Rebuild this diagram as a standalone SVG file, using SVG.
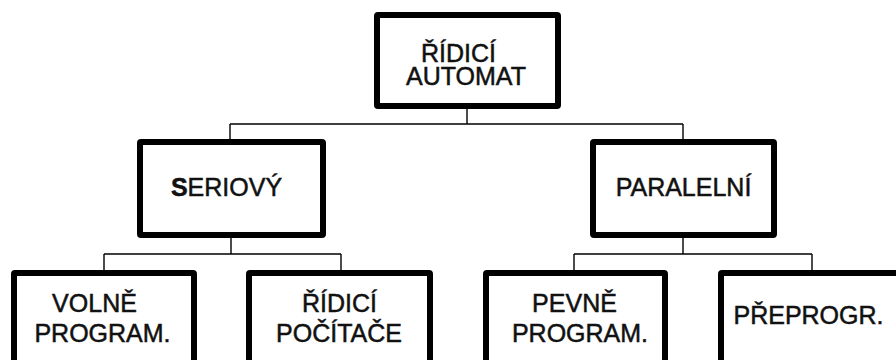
<svg xmlns="http://www.w3.org/2000/svg" width="896" height="360" viewBox="0 0 896 360">
<style>
.box{fill:#fff;stroke:#000;stroke-width:6;stroke-linejoin:round}
.t{font-family:"Liberation Sans",Arial,sans-serif;font-size:25px;fill:#111;stroke:#111;stroke-width:0.5;text-anchor:middle}
.c{fill:none;stroke:#000;stroke-width:1.4}
</style>
<rect width="896" height="360" fill="#fff"/>
<g id="connectors">
<path class="c" d="M467,109V124M230,124H683M230,124V139M683,124V139"/>
<path class="c" d="M231,238V254M104,254H341M104,254V270M341,254V270"/>
<path class="c" d="M683,238V254M574,254H812M574,254V270M812,254V270"/>
</g>
<g id="ridici-automat">
<rect class="box" x="377" y="15" width="181" height="91" rx="1"/>
<text class="t" x="458.5" y="62">ŘÍDICÍ</text>
<text class="t" x="466" y="85">AUTOMAT</text>
</g>
<g id="seriovy">
<rect class="box" x="140" y="142" width="183" height="93" rx="1"/>
<text class="t" x="226.5" y="196"><tspan font-weight="bold">S</tspan>ERIOVÝ</text>
</g>
<g id="paralelni">
<rect class="box" x="593" y="142" width="181" height="93" rx="1"/>
<text class="t" x="683.5" y="196">PARALELNÍ</text>
</g>
<g id="volne-program">
<rect class="box" x="14" y="273" width="180" height="100" rx="1"/>
<text class="t" x="94.5" y="312">VOLNĚ</text>
<text class="t" x="102.5" y="342">PROGRAM.</text>
</g>
<g id="ridici-pocitace">
<rect class="box" x="249" y="273" width="181" height="100" rx="1"/>
<text class="t" x="339.5" y="312">ŘÍDICÍ</text>
<text class="t" x="339" y="342">POČÍTAČE</text>
</g>
<g id="pevne-program">
<rect class="box" x="486" y="273" width="179" height="100" rx="1"/>
<text class="t" x="574.5" y="312">PEVNĚ</text>
<text class="t" x="580" y="342">PROGRAM.</text>
</g>
<g id="preprogr">
<rect class="box" x="721" y="273" width="181" height="100" rx="1"/>
<text class="t" x="808.5" y="324">PŘEPROGR.</text>
</g>
</svg>
